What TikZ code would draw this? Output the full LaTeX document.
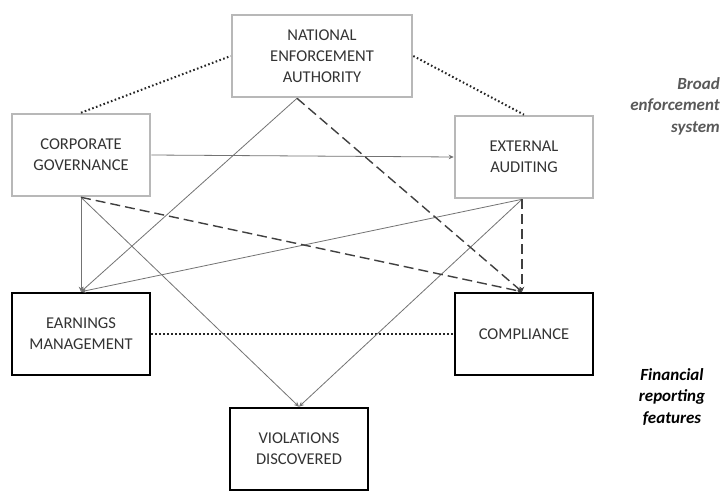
\documentclass[tikz,border=0pt]{standalone}
\usepackage{fontspec}
\setmainfont{Carlito}
\usetikzlibrary{arrows.meta,calc}
\begin{document}
\begin{tikzpicture}[x=1pt,y=-1pt,
  lbl/.style={font=\fontsize{16.5}{21}\selectfont, text=black!80, align=center},
  graybox/.style={draw=black!28, line width=2.6pt, minimum width=138pt, minimum height=82pt, inner sep=0pt, lbl},
  blackbox/.style={draw=black, line width=2.6pt, minimum width=138pt, minimum height=82pt, inner sep=0pt, lbl},
  thinln/.style={draw=black!55, line width=0.8pt},
  dashln/.style={draw=black!75, line width=1.4pt, dash pattern=on 10pt off 5pt},
  dotln/.style={draw=black!85, line width=2pt, dash pattern=on 1.6pt off 2.4pt},
  tip/.style={-{Stealth[length=5pt,width=4.5pt]}},
  side/.style={font=\fontsize{17}{21.5}\selectfont\bfseries\itshape, align=center, inner sep=0pt}
]
\useasboundingbox (0,0) rectangle (724,492);
\fill[white] (0,0) rectangle (724,492);

\node[graybox, minimum width=180pt] (nea) at (322,56) {NATIONAL\\ENFORCEMENT\\AUTHORITY};
\node[graybox] (cg) at (81,155) {CORPORATE\\GOVERNANCE};
\node[graybox] (ea) at (524,157) {EXTERNAL\\AUDITING};
\node[blackbox] (em) at (81,334) {EARNINGS\\MANAGEMENT};
\node[blackbox] (co) at (524,334) {COMPLIANCE};
\node[blackbox] (vd) at (299,449) {VIOLATIONS\\DISCOVERED};

\node[side, text=black!65, align=right, anchor=east] (bes) at (720,106) {Broad\\enforcement\\system};
\node[side, text=black] (frf) at (672,397) {Financial\\reporting\\features};

\coordinate (neab) at ([xshift=-25pt]nea.south);
\coordinate (cob) at ([xshift=-2pt]co.north);
\coordinate (eab) at ([xshift=-2pt]ea.south);

% dotted links
\draw[dotln] (cg.north) -- (nea.west);
\draw[dotln] (nea.east) -- (ea.north);
\draw[dotln] (em.east) -- (co.west);

% thin solid links
\draw[thinln, tip] (cg.east) -- (ea.west);
\draw[thinln, tip] (neab) -- (em.north);
\draw[thinln, tip] (cg.south) -- (em.north);
\draw[thinln, tip] (cg.south) -- (vd.north);
\draw[thinln, tip] (eab) -- (em.north);
\draw[thinln, tip] (eab) -- (vd.north);

% dashed links
\draw[dashln, tip] (neab) -- (cob);
\draw[dashln, tip] (cg.south) -- (cob);
\draw[dashln, tip] (eab) -- (cob);
\end{tikzpicture}
\end{document}
